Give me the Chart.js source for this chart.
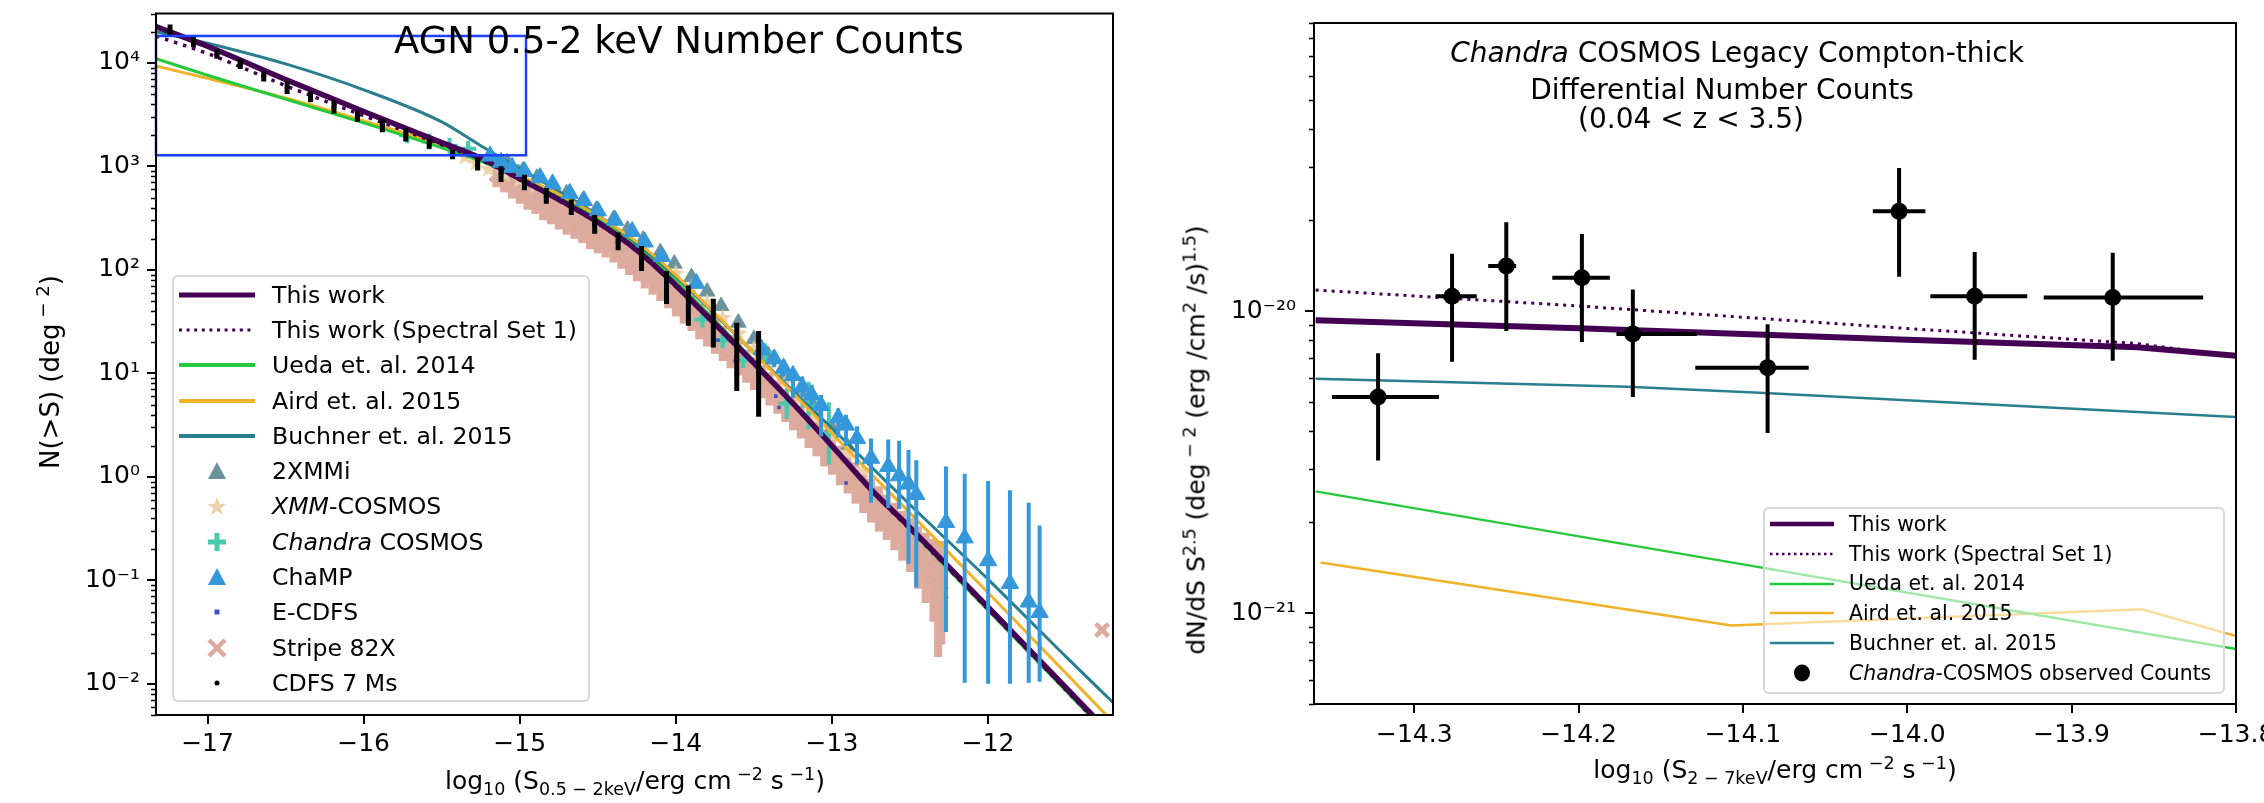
<!DOCTYPE html>
<html>
<head>
<meta charset="utf-8">
<title>AGN number counts</title>
<script src="https://cdn.jsdelivr.net/npm/chart.js@4.4.1/dist/chart.umd.min.js"></script>
<style>
  html, body { margin: 0; padding: 0; background: #fff; }
  #page { position: relative; width: 2264px; height: 803px; overflow: hidden; font-family: "DejaVu Sans", sans-serif; color: #000; }
  .panel { position: absolute; top: 0; height: 803px; }
  .txt { position: absolute; white-space: nowrap; line-height: 1; }
  .mid { transform: translateX(-50%); }
  .rot { transform: translate(-50%, -50%) rotate(-90deg); }
  sup, sub { font-size: 0.7em; line-height: 0; }
  .legend { position: absolute; box-sizing: border-box; border: 2px solid #d8d8d8; border-radius: 6px; }
  .legend .row { display: flex; align-items: center; white-space: nowrap; }
  .legend svg { flex: none; display: block; }
</style>
</head>
<body>
<div id="page">
  <div class="panel" style="left:0;width:1140px"><canvas id="countsChart"></canvas></div>
  <div class="panel" style="left:1140px;width:1124px"><canvas id="ctChart"></canvas></div>

  <div class="txt" style="left:394px;top:22px;font-size:37px">AGN 0.5-2 keV Number Counts</div>
  <div class="txt mid" style="left:635px;top:768px;font-size:25px">log<sub>10</sub> (S<sub>0.5 − 2keV</sub>/erg cm<sup> −2</sup> s<sup> −1</sup>)</div>
  <div class="txt rot" style="left:50px;top:372px;font-size:26px">N(&gt;S) (deg<sup> − 2</sup>)</div>

  <div class="txt mid" style="left:1737px;top:39px;font-size:28px"><i>Chandra</i> COSMOS Legacy Compton-thick</div>
  <div class="txt mid" style="left:1722px;top:76px;font-size:28px">Differential Number Counts</div>
  <div class="txt mid" style="left:1691px;top:105px;font-size:28px">(0.04 &lt; z &lt; 3.5)</div>
  <div class="txt mid" style="left:1775px;top:757px;font-size:25px">log<sub>10</sub> (S<sub>2 − 7keV</sub>/erg cm<sup> −2</sup> s<sup> −1</sup>)</div>
  <div class="txt rot" style="left:1196px;top:440px;font-size:25px">dN/dS S<sup>2.5</sup> (deg<sup> − 2</sup> (erg /cm<sup>2</sup> /s)<sup>1.5</sup>)</div>

  <div class="legend" id="legendLeft" style="left:172px;top:275px;width:418px;height:427px;background:rgba(255,255,255,0.8)"></div>
  <div class="legend" id="legendRight" style="left:1763px;top:507px;width:462px;height:187px;background:rgba(255,255,255,0.55)"></div>
</div>
<script>
// ---------- left panel: cumulative counts, values are log10 N(>S) ----------
var curveX = [-17.33,-17.0,-16.5,-16.0,-15.5,-15.25,-15.0,-14.75,-14.5,-14.25,-14.0,-13.75,-13.5,-13.25,-13.0,-12.75,-12.5,-12.0,-11.5,-11.2];
var thisWorkLogN = [4.35,4.16,3.84,3.53,3.23,3.08,2.88,2.68,2.46,2.19,1.85,1.48,1.10,0.71,0.30,-0.12,-0.49,-1.26,-2.04,-2.51];
var spectralSet1LogN = [4.26,4.09,3.78,3.49,3.21,3.06,2.87,2.67,2.45,2.18,1.84,1.47,1.09,0.70,0.29,-0.13,-0.51,-1.28,-2.06,-2.53];
var uedaLogN = [4.04,3.88,3.65,3.42,3.18,3.05,2.89,2.70,2.49,2.22,1.89,1.51,1.12,0.72,0.30,-0.12,-0.51,-1.29,-2.07,-2.54];
var airdLogN = [3.97,3.85,3.66,3.44,3.21,3.08,2.91,2.73,2.52,2.27,1.95,1.58,1.20,0.81,0.42,0.03,-0.35,-1.12,-1.90,-2.37];
var buchnerLogN = [4.30,4.19,3.99,3.74,3.43,3.20,2.98,2.76,2.53,2.25,1.93,1.57,1.20,0.83,0.47,0.10,-0.27,-0.99,-1.74,-2.18];

var cdfsX = [-17.24,-17.09,-16.94,-16.79,-16.64,-16.49,-16.34,-16.19,-16.04,-15.88,-15.73,-15.58,-15.43,-15.27,-15.12,-14.97,-14.83,-14.67,-14.52,-14.37,-14.22,-14.06,-13.92,-13.76,-13.61,-13.47];
var cdfsLogN = [4.31,4.20,4.08,3.99,3.87,3.76,3.67,3.57,3.49,3.40,3.30,3.22,3.11,3.01,2.93,2.84,2.71,2.61,2.44,2.27,2.11,1.83,1.65,1.49,1.16,1.00];
var cdfsLogLo = [4.26,4.15,4.04,3.94,3.82,3.70,3.62,3.51,3.43,3.33,3.24,3.17,3.07,2.96,2.85,2.77,2.64,2.53,2.35,2.19,1.99,1.67,1.46,1.25,0.83,0.58];
var cdfsLogHi = [4.37,4.26,4.13,4.04,3.92,3.82,3.72,3.64,3.54,3.46,3.37,3.27,3.16,3.08,3.00,2.92,2.79,2.68,2.53,2.36,2.23,1.99,1.85,1.72,1.49,1.41];

var stripeX = [-15.15,-15.10,-15.05,-15.00,-14.95,-14.90,-14.85,-14.80,-14.75,-14.70,-14.65,-14.60,-14.55,-14.50,-14.45,-14.40,-14.35,-14.30,-14.25,-14.20,-14.15,-14.10,-14.05,-14.00,-13.95,-13.90,-13.85,-13.80,-13.75,-13.70,-13.65,-13.60,-13.55,-13.50,-13.45,-13.40,-13.35,-13.30,-13.25,-13.20,-13.15,-13.10,-13.05,-13.00,-12.95,-12.90,-12.85,-12.80,-12.75,-12.70,-12.65,-12.60,-12.55,-12.50,-12.45,-12.40,-12.35,-12.30,-12.32,-11.27];
var stripeLogN = [2.92,2.87,2.82,2.77,2.72,2.68,2.63,2.59,2.55,2.50,2.46,2.42,2.37,2.33,2.29,2.24,2.18,2.12,2.06,1.99,1.93,1.87,1.80,1.72,1.65,1.58,1.50,1.43,1.36,1.29,1.21,1.14,1.07,1.00,0.92,0.85,0.77,0.69,0.61,0.53,0.45,0.37,0.28,0.20,0.11,0.03,-0.06,-0.15,-0.23,-0.31,-0.39,-0.48,-0.57,-0.66,-0.78,-0.88,-1.00,-1.12,-1.19,-1.48];
var stripeErr = [0.12,0.12,0.13,0.13,0.14,0.14,0.15,0.15,0.16,0.16,0.16,0.16,0.17,0.17,0.17,0.17,0.17,0.17,0.17,0.17,0.17,0.17,0.17,0.17,0.17,0.17,0.17,0.17,0.17,0.17,0.16,0.16,0.16,0.16,0.16,0.16,0.16,0.16,0.16,0.16,0.17,0.17,0.18,0.18,0.19,0.19,0.20,0.20,0.21,0.22,0.22,0.23,0.24,0.26,0.30,0.34,0.40,0.50,0.55,0.02];

var champX = [-15.19,-15.12,-15.05,-14.97,-14.87,-14.79,-14.68,-14.59,-14.50,-14.39,-14.28,-14.20,-14.09,-13.87,-13.45,-13.37,-13.31,-13.25,-13.19,-13.13,-13.07,-12.96,-12.91,-12.84,-12.75,-12.64,-12.57,-12.51,-12.46,-12.27,-12.15,-12.00,-11.86,-11.74,-11.67];
var champLogN = [3.10,3.04,2.99,2.95,2.89,2.83,2.74,2.67,2.57,2.48,2.37,2.27,2.13,1.87,1.23,1.14,1.05,0.98,0.87,0.79,0.69,0.57,0.50,0.37,0.18,0.10,0.01,-0.07,-0.17,-0.44,-0.59,-0.81,-1.03,-1.21,-1.31];
var champErrLo = [0.04,0.04,0.04,0.04,0.04,0.04,0.04,0.04,0.04,0.04,0.04,0.04,0.04,0.04,0.06,0.08,0.08,0.22,0.10,0.10,0.30,0.19,0.20,0.25,0.43,0.40,0.32,0.77,0.90,1.06,1.40,1.19,0.97,0.78,0.67];
var champErrHi = [0.04,0.04,0.04,0.04,0.04,0.04,0.04,0.04,0.04,0.04,0.04,0.04,0.04,0.04,0.06,0.08,0.08,0.05,0.10,0.10,0.10,0.09,0.10,0.12,0.19,0.26,0.34,0.33,0.33,0.54,0.62,0.77,0.90,0.96,0.84];

var xmmiX = [-15.08,-14.98,-14.89,-14.79,-14.70,-14.60,-14.51,-14.40,-14.31,-14.21,-14.10,-14.01,-13.90,-13.80,-13.71,-13.60,-13.50,-13.41,-13.30,-13.20,-13.11,-13.00,-12.90];
var xmmiLogN = [3.04,2.96,2.89,2.81,2.74,2.66,2.58,2.49,2.39,2.29,2.17,2.06,1.93,1.79,1.65,1.49,1.33,1.18,0.99,0.82,0.66,0.47,0.29];
var xmmiErr = [0.02,0.02,0.02,0.02,0.02,0.02,0.02,0.03,0.03,0.03,0.03,0.03,0.03,0.04,0.04,0.04,0.04,0.05,0.05,0.06,0.06,0.07,0.08];

var xmmCosmosX = [-15.35,-15.28,-15.20,-15.10,-15.00,-14.90,-14.80,-14.70,-14.60,-14.50,-14.40,-14.30,-14.20,-14.10,-14.00,-13.90,-13.80,-13.70,-13.60,-13.50,-13.40,-13.30,-13.20,-13.10,-13.00,-12.90,-12.80];
var xmmCosmosLogN = [3.10,3.04,2.98,2.93,2.88,2.82,2.76,2.69,2.61,2.53,2.45,2.34,2.22,2.10,1.97,1.83,1.69,1.54,1.39,1.24,1.08,0.92,0.75,0.58,0.41,0.24,0.07];

var ccosmosX = [-15.72,-15.58,-15.45,-15.33,-15.19,-15.05,-13.83,-13.70,-13.57,-13.43,-13.29,-13.15,-13.02];
var ccosmosLogN = [3.30,3.24,3.20,3.17,3.09,3.00,1.52,1.32,1.13,1.20,0.71,0.69,0.42];
var ccosmosErr = [0.04,0.05,0.04,0.04,0.04,0.04,0.04,0.065,0.04,0.09,0.15,0.23,0.30];

var ecdfsX = [-13.73,-13.62,-13.36,-13.34,-12.91];
var ecdfsLogN = [1.32,1.12,0.78,0.67,-0.06];

var zoomBoxX = [-17.33, -14.96];
var zoomBoxN = [1.28e3, 1.82e4];

var xTicksLeft = [-17,-16,-15,-14,-13,-12];
var yTicksLeft = [1e-2,1e-1,1,10,100,1e3,1e4];

// ---------- right panel: Compton-thick differential counts ----------
var ctX = [-14.322,-14.277,-14.244,-14.198,-14.167,-14.085,-14.005,-13.959,-13.875];
var ctY = [5.2e-21,1.12e-20,1.41e-20,1.29e-20,8.4e-21,6.5e-21,2.14e-20,1.12e-20,1.11e-20];
var ctYLo = [3.2e-21,6.8e-21,8.6e-21,7.9e-21,5.2e-21,3.95e-21,1.30e-20,6.9e-21,6.85e-21];
var ctYHi = [7.25e-21,1.55e-20,1.97e-20,1.80e-20,1.18e-20,9.05e-21,2.98e-20,1.57e-20,1.56e-20];
var ctXLo = [-14.350,-14.287,-14.255,-14.216,-14.177,-14.129,-14.021,-13.986,-13.917];
var ctXHi = [-14.285,-14.262,-14.238,-14.181,-14.128,-14.060,-13.989,-13.927,-13.820];

var thisWorkRX = [-14.36,-14.2,-14.0,-13.86,-13.8];
var thisWorkRY = [9.33e-21,8.77e-21,8.04e-21,7.59e-21,7.11e-21];
var spectralRX = [-14.36,-14.2,-14.0,-13.86,-13.82];
var spectralRY = [1.175e-20,1.04e-20,8.76e-21,7.81e-21,7.3e-21];
var uedaRX = [-14.36,-14.1,-13.8];
var uedaRY = [2.53e-21,1.45e-21,7.6e-22];
var airdRX = [-14.357,-14.107,-13.857,-13.8];
var airdRY = [1.47e-21,9.1e-22,1.03e-21,8.4e-22];
var buchnerRX = [-14.36,-14.17,-14.09,-13.8];
var buchnerRY = [5.97e-21,5.62e-21,5.37e-21,4.46e-21];

var xTicksRight = [-14.3,-14.2,-14.1,-14.0,-13.9,-13.8];
var yTicksRight = [1e-21,1e-20];

// ---------- colours ----------
var purple = '#440154', green = '#27c93c', orange = '#f1b22a', teal = '#2a7f8f';
var champBlue = '#3498db', xmmiGrey = '#6c939c', xmmTan = '#ecd2a8', ccTeal = '#48c9b0';
var ecdfsBlue = '#3f4fc4', stripePink = '#dcab9e';

Chart.defaults.font.family = "'DejaVu Sans', sans-serif";
Chart.defaults.color = '#000';

function toN(v) { return Math.pow(10, v); }
function logPoints(xs, logs) { return xs.map(function (x, i) { return { x: x, y: toN(logs[i]) }; }); }
function points(xs, ys) { return xs.map(function (x, i) { return { x: x, y: ys[i] }; }); }
function logErr(logs, lo, hi) { return logs.map(function (v, i) { return [toN(v - lo[i]), toN(v + hi[i])]; }); }
function pairs(a, b) { return a.map(function (v, i) { return [v, b[i]]; }); }

var supMap = { '-': '\u207B', '0': '\u2070', '1': '\u00B9', '2': '\u00B2', '3': '\u00B3', '4': '\u2074', '5': '\u2075', '6': '\u2076', '7': '\u2077', '8': '\u2078', '9': '\u2079' };
function powLabel(v) {
  var e = String(Math.round(Math.log10(v)));
  return '10' + e.split('').map(function (c) { return supMap[c]; }).join('');
}
function minus(s) { return s.replace('-', '\u2212'); }

function minorLog(min, max) {
  var out = [];
  for (var e = Math.floor(Math.log10(min)); e <= Math.ceil(Math.log10(max)); e++) {
    for (var k = 2; k <= 9; k++) {
      var v = k * Math.pow(10, e);
      if (v >= min * 0.999 && v <= max * 1.001) out.push(v);
    }
  }
  return out;
}

function starImage(size, color) {
  var c = document.createElement('canvas');
  c.width = c.height = size;
  var g = c.getContext('2d');
  g.fillStyle = color;
  g.beginPath();
  for (var i = 0; i < 10; i++) {
    var r = i % 2 ? size * 0.21 : size * 0.5;
    var a = -Math.PI / 2 + i * Math.PI / 5;
    g.lineTo(size / 2 + r * Math.cos(a), size / 2 + r * Math.sin(a) + size * 0.04);
  }
  g.closePath();
  g.fill();
  return c;
}

// error bars drawn just before each dataset's markers
var errorBars = {
  id: 'errorBars',
  beforeDatasetDraw: function (chart, args) {
    var ds = chart.data.datasets[args.index];
    if (!ds.errY && !ds.errX) return;
    var ctx = chart.ctx, a = chart.chartArea, xs = chart.scales.x, ys = chart.scales.y;
    ctx.save();
    ctx.beginPath();
    ctx.rect(a.left, a.top, a.right - a.left, a.bottom - a.top);
    ctx.clip();
    ctx.strokeStyle = ds.errColor;
    ctx.lineWidth = ds.errWidth;
    ds.data.forEach(function (p, i) {
      var px = xs.getPixelForValue(p.x), py = ys.getPixelForValue(p.y);
      ctx.beginPath();
      if (ds.errY) {
        ctx.moveTo(px, ys.getPixelForValue(ds.errY[i][0]));
        ctx.lineTo(px, ys.getPixelForValue(ds.errY[i][1]));
      }
      if (ds.errX) {
        ctx.moveTo(xs.getPixelForValue(ds.errX[i][0]), py);
        ctx.lineTo(xs.getPixelForValue(ds.errX[i][1]), py);
      }
      ctx.stroke();
    });
    ctx.restore();
  }
};

// matplotlib-like box, outward ticks and log minor ticks
var frame = {
  id: 'frame',
  afterDraw: function (chart, args, opts) {
    var ctx = chart.ctx, a = chart.chartArea, xs = chart.scales.x, ys = chart.scales.y;
    ctx.save();
    ctx.strokeStyle = '#000';
    ctx.lineWidth = 2;
    ctx.beginPath();
    xs.ticks.forEach(function (t) {
      var p = Math.round(xs.getPixelForValue(t.value));
      ctx.moveTo(p, a.bottom); ctx.lineTo(p, a.bottom + 9);
    });
    ys.ticks.forEach(function (t) {
      var p = Math.round(ys.getPixelForValue(t.value));
      ctx.moveTo(a.left - 9, p); ctx.lineTo(a.left, p);
    });
    ctx.stroke();
    ctx.lineWidth = 1.5;
    ctx.beginPath();
    (opts.minorY || []).forEach(function (v) {
      var p = Math.round(ys.getPixelForValue(v)) + 0.5;
      ctx.moveTo(a.left - 5, p); ctx.lineTo(a.left, p);
    });
    ctx.stroke();
    ctx.lineWidth = 2;
    ctx.strokeRect(a.left, a.top, a.right - a.left, a.bottom - a.top);
    ctx.restore();
  }
};

var zoomBox = {
  id: 'zoomBox',
  afterDatasetsDraw: function (chart) {
    var ctx = chart.ctx, xs = chart.scales.x, ys = chart.scales.y;
    var x0 = xs.getPixelForValue(zoomBoxX[0]), x1 = xs.getPixelForValue(zoomBoxX[1]);
    var y0 = ys.getPixelForValue(zoomBoxN[1]), y1 = ys.getPixelForValue(zoomBoxN[0]);
    ctx.save();
    ctx.strokeStyle = '#1b40ff';
    ctx.lineWidth = 2.5;
    ctx.strokeRect(x0, y0, x1 - x0, y1 - y0);
    ctx.restore();
  }
};

function curve(label, xs, ys, color, width, dash, order, smooth) {
  return {
    label: label, data: points(xs, ys), showLine: true, borderColor: color, backgroundColor: color,
    borderWidth: width, borderDash: dash || [], pointRadius: 0, order: order,
    cubicInterpolationMode: smooth ? 'monotone' : 'default'
  };
}

function axisCommon(size, pad) {
  return {
    grid: { display: false, drawTicks: false },
    border: { display: false },
    ticks: { padding: pad, autoSkip: false, maxRotation: 0, minRotation: 0, color: '#000', font: { size: size } }
  };
}

// ---------- left chart ----------
var starIcon = starImage(19, xmmTan);

var leftSets = [
  { label: 'CDFS 7 Ms', data: logPoints(cdfsX, cdfsLogN), errY: pairs(cdfsLogLo.map(toN), cdfsLogHi.map(toN)),
    errColor: '#000', errWidth: 5, pointStyle: 'circle', pointRadius: 2.5, backgroundColor: '#000', borderWidth: 0, order: 0 },
  { label: 'ChaMP', data: logPoints(champX, champLogN), errY: logErr(champLogN, champErrLo, champErrHi),
    errColor: champBlue, errWidth: 4, pointStyle: 'triangle', pointRadius: 10, backgroundColor: champBlue, borderColor: champBlue, borderWidth: 1, order: 1 },
  { label: 'E-CDFS', data: logPoints(ecdfsX, ecdfsLogN), pointStyle: 'rect', pointRadius: 2.5,
    backgroundColor: ecdfsBlue, borderWidth: 0, order: 2 },
  curve('This work', curveX, thisWorkLogN.map(toN), purple, 5.5, null, 3, true),
  curve('This work (Spectral Set 1)', curveX, spectralSet1LogN.map(toN), purple, 3.5, [3.5, 6], 4, true),
  curve('Ueda et. al. 2014', curveX, uedaLogN.map(toN), green, 3, null, 5, true),
  curve('Aird et. al. 2015', curveX, airdLogN.map(toN), orange, 3, null, 6, true),
  curve('Buchner et. al. 2015', curveX, buchnerLogN.map(toN), teal, 3, null, 7, true),
  { label: 'Chandra COSMOS', data: logPoints(ccosmosX, ccosmosLogN), errY: logErr(ccosmosLogN, ccosmosErr, ccosmosErr),
    errColor: ccTeal, errWidth: 4, pointStyle: 'cross', pointRadius: 8, borderColor: ccTeal, pointBorderWidth: 4, order: 8 },
  { label: 'XMM-COSMOS', data: logPoints(xmmCosmosX, xmmCosmosLogN), pointStyle: starIcon, pointRadius: 9, order: 9 },
  { label: '2XMMi', data: logPoints(xmmiX, xmmiLogN), errY: logErr(xmmiLogN, xmmiErr, xmmiErr),
    errColor: xmmiGrey, errWidth: 3, pointStyle: 'triangle', pointRadius: 9, backgroundColor: xmmiGrey, borderColor: xmmiGrey, borderWidth: 1, order: 10 },
  { label: 'Stripe 82X', data: logPoints(stripeX, stripeLogN), errY: logErr(stripeLogN, stripeErr, stripeErr),
    errColor: stripePink, errWidth: 8, pointStyle: 'crossRot', pointRadius: 9, borderColor: stripePink, pointBorderWidth: 4.5, order: 11 }
];

var leftX = axisCommon(25, 14);
leftX.type = 'linear'; leftX.min = -17.33; leftX.max = -11.2;
leftX.afterBuildTicks = function (s) { s.ticks = xTicksLeft.map(function (v) { return { value: v }; }); };
leftX.afterFit = function (s) { s.height = 88; s.paddingLeft = 0; s.paddingRight = 0; };
leftX.ticks.callback = function (v) { return minus(String(v)); };

var leftY = axisCommon(25, 16);
leftY.type = 'logarithmic'; leftY.min = 5e-3; leftY.max = 3e4;
leftY.afterBuildTicks = function (s) { s.ticks = yTicksLeft.map(function (v) { return { value: v }; }); };
leftY.afterFit = function (s) { s.width = 156; s.paddingTop = 0; s.paddingBottom = 0; };
leftY.ticks.callback = function (v) { return powLabel(v); };

new Chart(document.getElementById('countsChart'), {
  type: 'scatter',
  data: { datasets: leftSets },
  options: {
    responsive: true, maintainAspectRatio: false, animation: false, devicePixelRatio: 1, events: [],
    layout: { padding: { left: 0, top: 9, right: 27, bottom: 0 } },
    plugins: { legend: { display: false }, tooltip: { enabled: false }, frame: { minorY: minorLog(5e-3, 3e4) } },
    scales: { x: leftX, y: leftY }
  },
  plugins: [errorBars, zoomBox, frame]
});

// ---------- right chart ----------
var rightSets = [
  { label: 'Chandra-COSMOS observed Counts', data: points(ctX, ctY), errY: pairs(ctYLo, ctYHi), errX: pairs(ctXLo, ctXHi),
    errColor: '#000', errWidth: 4, pointStyle: 'circle', pointRadius: 8.5, backgroundColor: '#000', borderWidth: 0, order: 0 },
  curve('This work', thisWorkRX, thisWorkRY, purple, 6, null, 1, false),
  curve('This work (Spectral Set 1)', spectralRX, spectralRY, purple, 3, [3, 5], 2, false),
  curve('Ueda et. al. 2014', uedaRX, uedaRY, green, 2.5, null, 3, false),
  curve('Aird et. al. 2015', airdRX, airdRY, orange, 2.5, null, 4, false),
  curve('Buchner et. al. 2015', buchnerRX, buchnerRY, teal, 2.5, null, 5, false)
];

var rightX = axisCommon(25, 16);
rightX.type = 'linear'; rightX.min = -14.361; rightX.max = -13.8;
rightX.afterBuildTicks = function (s) { s.ticks = xTicksRight.map(function (v) { return { value: v }; }); };
rightX.afterFit = function (s) { s.height = 99; s.paddingLeft = 0; s.paddingRight = 0; };
rightX.ticks.callback = function (v) { return minus(v.toFixed(1)); };

var rightY = axisCommon(25, 18);
rightY.type = 'logarithmic'; rightY.min = 5e-22; rightY.max = 9e-20;
rightY.afterBuildTicks = function (s) { s.ticks = yTicksRight.map(function (v) { return { value: v }; }); };
rightY.afterFit = function (s) { s.width = 174; s.paddingTop = 0; s.paddingBottom = 0; };
rightY.ticks.callback = function (v) { return powLabel(v); };

new Chart(document.getElementById('ctChart'), {
  type: 'scatter',
  data: { datasets: rightSets },
  options: {
    responsive: true, maintainAspectRatio: false, animation: false, devicePixelRatio: 1, events: [],
    layout: { padding: { left: 0, top: 23, right: 28, bottom: 0 } },
    plugins: { legend: { display: false }, tooltip: { enabled: false }, frame: { minorY: minorLog(5e-22, 9e-20) } },
    scales: { x: rightX, y: rightY }
  },
  plugins: [errorBars, frame]
});

// ---------- legends (HTML, so italics can be kept) ----------
function sample(s, w, h) {
  var c = w / 2, m = h / 2, body = '';
  if (s.kind === 'line') {
    body = '<line x1="5" y1="' + m + '" x2="' + (w - 5) + '" y2="' + m + '" stroke="' + s.color + '" stroke-width="' + s.width + '"' +
      (s.dash ? ' stroke-dasharray="' + s.dash + '"' : '') + '/>';
  } else if (s.kind === 'tri') {
    body = '<polygon points="' + c + ',' + (m - 9) + ' ' + (c + 9) + ',' + (m + 8) + ' ' + (c - 9) + ',' + (m + 8) + '" fill="' + s.color + '"/>';
  } else if (s.kind === 'star') {
    var pts = [];
    for (var i = 0; i < 10; i++) {
      var r = i % 2 ? 4 : 10, a = -Math.PI / 2 + i * Math.PI / 5;
      pts.push((c + r * Math.cos(a)).toFixed(1) + ',' + (m + 1 + r * Math.sin(a)).toFixed(1));
    }
    body = '<polygon points="' + pts.join(' ') + '" fill="' + s.color + '"/>';
  } else if (s.kind === 'plus') {
    body = '<path d="M' + (c - 9) + ' ' + m + 'H' + (c + 9) + 'M' + c + ' ' + (m - 9) + 'V' + (m + 9) + '" stroke="' + s.color + '" stroke-width="5"/>';
  } else if (s.kind === 'x') {
    body = '<path d="M' + (c - 8) + ' ' + (m - 8) + 'L' + (c + 8) + ' ' + (m + 8) + 'M' + (c + 8) + ' ' + (m - 8) + 'L' + (c - 8) + ' ' + (m + 8) + '" stroke="' + s.color + '" stroke-width="4.5"/>';
  } else if (s.kind === 'square') {
    body = '<rect x="' + (c - 2.5) + '" y="' + (m - 2.5) + '" width="5" height="5" fill="' + s.color + '"/>';
  } else if (s.kind === 'dot') {
    body = '<ellipse cx="' + c + '" cy="' + m + '" rx="' + s.rx + '" ry="' + s.ry + '" fill="' + s.color + '"/>';
  }
  return '<svg width="' + w + '" height="' + h + '">' + body + '</svg>';
}

function buildLegend(id, items, rowH, sampleW, gap, fontSize) {
  document.getElementById(id).innerHTML = items.map(function (it) {
    return '<div class="row" style="height:' + rowH + 'px;font-size:' + fontSize + 'px">' + sample(it, sampleW, 30) +
      '<span style="margin-left:' + gap + 'px">' + it.text + '</span></div>';
  }).join('');
}

buildLegend('legendLeft', [
  { kind: 'line', color: purple, width: 5, text: 'This work' },
  { kind: 'line', color: purple, width: 3, dash: '3 4.6', text: 'This work (Spectral Set 1)' },
  { kind: 'line', color: green, width: 4, text: 'Ueda et. al. 2014' },
  { kind: 'line', color: orange, width: 4, text: 'Aird et. al. 2015' },
  { kind: 'line', color: teal, width: 4, text: 'Buchner et. al. 2015' },
  { kind: 'tri', color: xmmiGrey, text: '2XMMi' },
  { kind: 'star', color: xmmTan, text: '<i>XMM</i>-COSMOS' },
  { kind: 'plus', color: ccTeal, text: '<i>Chandra</i> COSMOS' },
  { kind: 'tri', color: champBlue, text: 'ChaMP' },
  { kind: 'square', color: ecdfsBlue, text: 'E-CDFS' },
  { kind: 'x', color: stripePink, text: 'Stripe 82X' },
  { kind: 'dot', color: '#000', rx: 2.5, ry: 2.5, text: 'CDFS 7 Ms' }
], 35.3, 86, 12, 23.6);

buildLegend('legendRight', [
  { kind: 'line', color: purple, width: 4.5, text: 'This work' },
  { kind: 'line', color: purple, width: 2.5, dash: '2.5 3.5', text: 'This work (Spectral Set 1)' },
  { kind: 'line', color: green, width: 2.5, text: 'Ueda et. al. 2014' },
  { kind: 'line', color: orange, width: 2.5, text: 'Aird et. al. 2015' },
  { kind: 'line', color: teal, width: 2.5, text: 'Buchner et. al. 2015' },
  { kind: 'dot', color: '#000', rx: 8, ry: 8.5, text: '<i>Chandra</i>-COSMOS observed Counts' }
], 29.8, 74, 10, 20.4);
</script>
</body>
</html>
